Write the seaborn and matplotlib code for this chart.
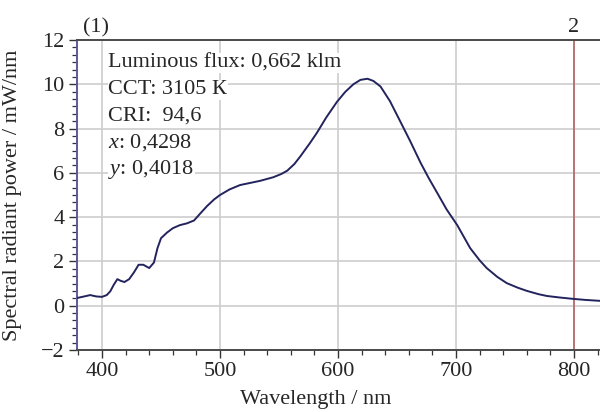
import numpy as np
import pandas as pd
import matplotlib
matplotlib.use("Agg")
import matplotlib.pyplot as plt
from matplotlib.ticker import MultipleLocator, AutoMinorLocator
import seaborn as sns

# ---- data ----
wavelength = [379, 385, 390, 395, 400, 404, 407, 410, 413, 416, 419, 423, 427,
              431, 435, 440, 444, 447, 450, 455, 460, 466, 472, 478, 483, 489,
              495, 500, 508, 517, 526, 534, 545, 552, 557, 563, 568, 576, 582,
              590, 599, 606, 613, 619, 625, 630, 636, 644, 652, 661, 670, 677,
              684, 692, 701, 712, 720, 726, 735, 743, 752, 760, 770, 777, 788,
              799, 810, 822]
power = [0.35, 0.42, 0.48, 0.42, 0.40, 0.48, 0.65, 0.95, 1.20, 1.12, 1.07, 1.20,
         1.50, 1.85, 1.85, 1.70, 1.95, 2.60, 3.05, 3.30, 3.50, 3.64, 3.72, 3.85,
         4.15, 4.50, 4.80, 5.00, 5.25, 5.45, 5.55, 5.64, 5.80, 5.95, 6.10, 6.40,
         6.74, 7.33, 7.80, 8.50, 9.20, 9.65, 10.00, 10.20, 10.25, 10.15, 9.90,
         9.24, 8.40, 7.45, 6.45, 5.75, 5.10, 4.35, 3.64, 2.60, 2.05, 1.70, 1.30,
         1.02, 0.82, 0.67, 0.52, 0.44, 0.37, 0.31, 0.26, 0.22]

info_lines = ["Luminous flux: 0,662 klm", "CCT: 3105 К", "CRI:  94,6",
              "$x$: 0,4298", "$y$: 0,4018"]
x_ticks = [400, 500, 600, 700, 800]
y_ticks = [-2, 0, 2, 4, 6, 8, 10, 12]
marker_wl = 800

df = pd.DataFrame({"wavelength": wavelength, "power": power})

sns.set_theme(style="white")
plt.rcParams["font.family"] = ["Liberation Serif", "DejaVu Serif"]
plt.rcParams["mathtext.fontset"] = "custom"
plt.rcParams["mathtext.rm"] = "Liberation Serif"
plt.rcParams["mathtext.it"] = "Liberation Serif:italic"

fig = plt.figure(figsize=(6, 4.12), dpi=100)
ax = fig.add_axes([77 / 600, 62 / 412, 523 / 600, 310 / 412])

sns.lineplot(data=df, x="wavelength", y="power", ax=ax,
             color="#23235e", linewidth=1.4, zorder=3)
ax.axvline(marker_wl, color="#b05a5a", linewidth=1.1, zorder=2)

ax.set_xlim(378.8, 822)
ax.set_ylim(-2, 12)
ax.set_xticks(x_ticks)
ax.set_yticks(y_ticks)
ax.xaxis.set_minor_locator(MultipleLocator(20))
ax.yaxis.set_minor_locator(AutoMinorLocator(6))
ax.grid(True, which="major", color="#cdcdcd", linewidth=1.2, zorder=0)
ax.set_axisbelow(True)

ax.tick_params(axis="both", which="major", direction="out", length=6,
               width=1, color="#333333", labelsize=16, pad=3)
ax.tick_params(axis="both", which="minor", direction="out", length=3.5,
               width=0.9, color="#333333")
ax.tick_params(axis="x", bottom=True, which="both")
ax.tick_params(axis="y", left=True, which="both")

for side in ["top", "bottom"]:
    ax.spines[side].set_color("#4a4a4a")
    ax.spines[side].set_linewidth(1.4)
ax.spines["left"].set_color("#5a5a9c")
ax.spines["left"].set_linewidth(1.4)
ax.spines["right"].set_visible(False)

ax.set_xlabel("Wavelength / nm", fontsize=16)
ax.set_ylabel("Spectral radiant power / mW/nm", fontsize=16)
ax.xaxis.set_label_coords((316 - 77) / 523, -0.13)
ax.yaxis.set_label_coords(-0.105, 0.5)

# info block, each line on its own white patch
for i, line in enumerate(info_lines):
    ax.text(0.06, 0.925 - i * 0.0855, line, transform=ax.transAxes,
            fontsize=16, va="center", ha="left", zorder=4,
            bbox=dict(facecolor="white", edgecolor="none", pad=0.5))

ax.text(395, 12.35, "(1)", fontsize=16, ha="center", va="baseline")
ax.text(marker_wl, 12.35, "2", fontsize=16, ha="center", va="baseline")

fig.savefig("out.png", dpi=100)
